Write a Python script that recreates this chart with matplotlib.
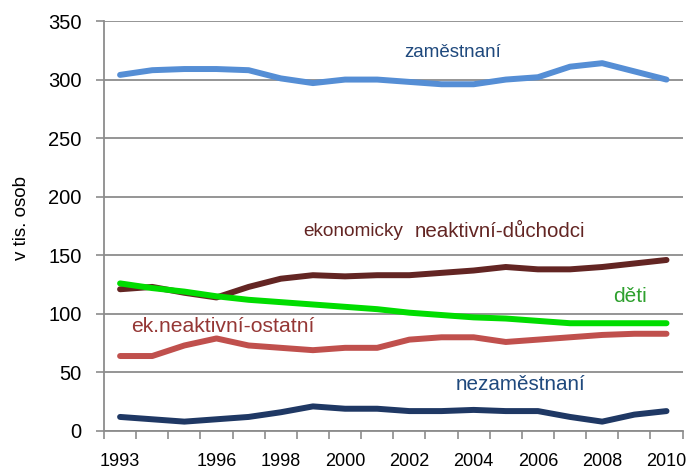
import numpy as np
from matplotlib import pyplot as plt

plt.rcParams['font.family'] = ['Liberation Sans', 'DejaVu Sans']

years = list(range(1993, 2011))
shown_years = [1993, 1996, 1998, 2000, 2002, 2004, 2006, 2008, 2010]

zamestnani = [304, 308, 309, 309, 308, 301, 297, 300, 300, 298, 296, 296, 300, 302, 311, 314, 307, 300]
duchodci = [121, 123, 118, 114, 123, 130, 133, 132, 133, 133, 135, 137, 140, 138, 138, 140, 143, 146]
deti = [126, 122, 119, 115, 112, 110, 108, 106, 104, 101, 99, 97, 96, 94, 92, 92, 92, 92]
ostatni = [64, 64, 73, 79, 73, 71, 69, 71, 71, 78, 80, 80, 76, 78, 80, 82, 83, 83]
nezamestnani = [12, 10, 8, 10, 12, 16, 21, 19, 19, 17, 17, 18, 17, 17, 12, 8, 14, 17]

fig = plt.figure(figsize=(6.86, 4.73), dpi=100)
ax = fig.add_axes([0.1516, 0.0888, 0.8434, 0.8668])

x = np.arange(len(years))
ax.plot(x, zamestnani, color='#558ED5', lw=4.3, solid_capstyle='round', zorder=3)
ax.plot(x, duchodci, color='#632523', lw=4.3, solid_capstyle='round', zorder=3)
ax.plot(x, ostatni, color='#C0504D', lw=4.3, solid_capstyle='round', zorder=3)
ax.plot(x, deti, color='#00DD00', lw=4.3, solid_capstyle='round', zorder=4)
ax.plot(x, nezamestnani, color='#1F3864', lw=4.3, solid_capstyle='round', zorder=3)

ax.set_xlim(-0.5, len(years) - 0.5)
ax.set_ylim(0, 350)
ax.set_yticks(range(0, 351, 50))
ax.yaxis.grid(True, color='#8C8C8C', lw=1.3)
ax.set_axisbelow(True)

# category boundaries get the tick marks, labels sit under the categories
ax.set_xticks(np.arange(-0.5, len(years), 1))
ax.set_xticklabels([])
ax.set_xticks([years.index(y) for y in shown_years], minor=True)
ax.set_xticklabels([str(y) for y in shown_years], minor=True)
ax.tick_params(axis='x', which='major', length=6, color='#8C8C8C', width=1.2)
ax.tick_params(axis='x', which='minor', length=0, pad=16, labelsize=13)
ax.tick_params(axis='y', length=6, color='#8C8C8C', width=1.2, labelsize=14.5, pad=10)

for s in ['top', 'right']:
    ax.spines[s].set_visible(False)
for s in ['left', 'bottom']:
    ax.spines[s].set_color('#8C8C8C')
    ax.spines[s].set_linewidth(1.3)

ax.set_ylabel('v tis. osob', fontsize=13.5)
ax.yaxis.set_label_coords(-0.128, 0.52)

ax.text(10.36, 323.5, 'zaměstnaní', color='#1F497D', fontsize=13.5, ha='center', va='center')
ax.text(5.71, 170, 'ekonomicky', color='#632523', fontsize=13.7, ha='left', va='center')
ax.text(9.17, 170, 'neaktivní-důchodci', color='#632523', fontsize=14.8, ha='left', va='center')
ax.text(15.85, 114.4, 'děti', color='#2EA02E', fontsize=15, ha='center', va='center')
ax.text(0.34, 88.8, 'ek.neaktivní-ostatní', color='#953735', fontsize=15.2, ha='left', va='center')
ax.text(12.45, 39.3, 'nezaměstnaní', color='#1F497D', fontsize=14.9, ha='center', va='center')

fig.savefig('out.png', dpi=100)
